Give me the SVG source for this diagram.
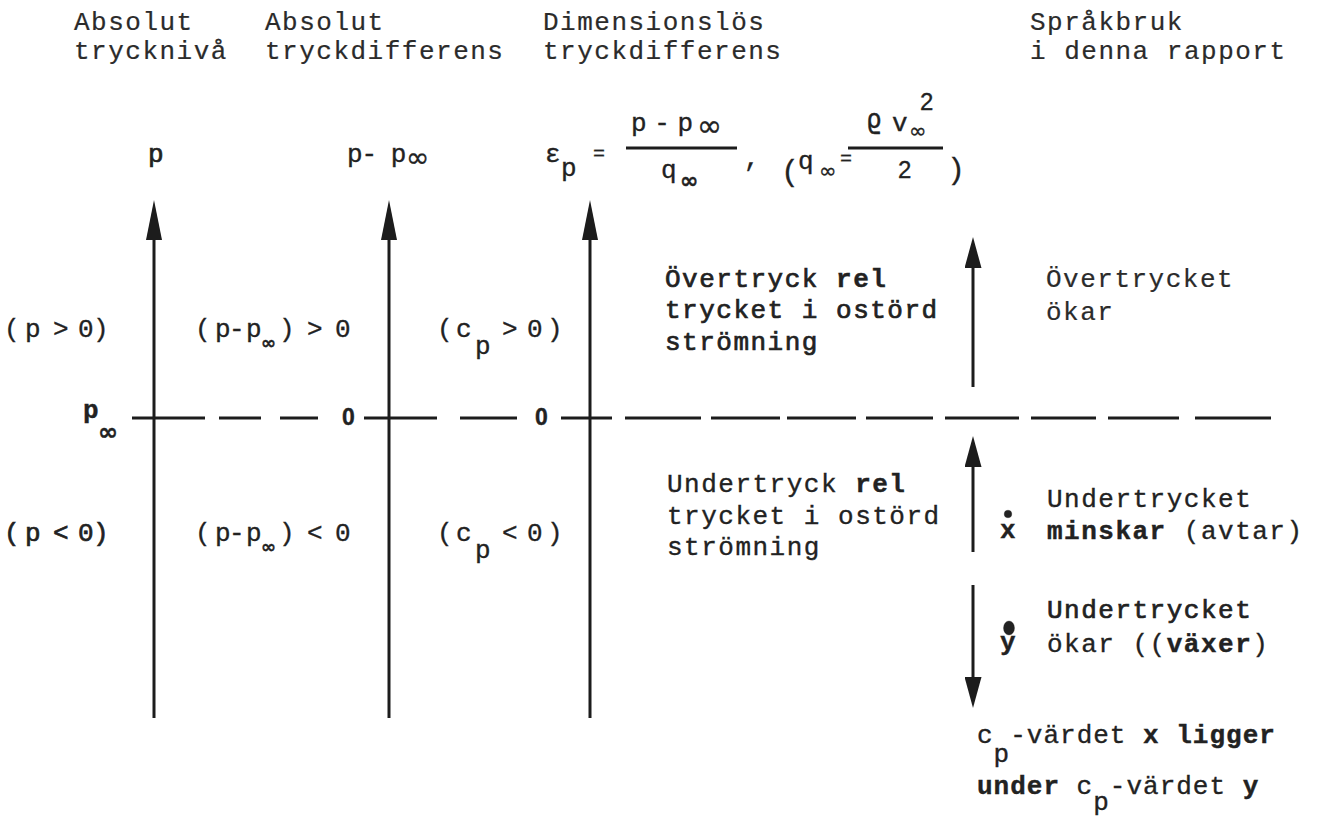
<svg xmlns="http://www.w3.org/2000/svg" width="1323" height="816" viewBox="0 0 1323 816">
<defs>
<style>
.tw{font-family:"Liberation Mono","DejaVu Sans Mono",monospace;font-size:26px;letter-spacing:1.5px;fill:#222;stroke:#222;stroke-width:0.35px;}
.hd{fill:#2b2b2b;stroke:#2b2b2b;stroke-width:0.2px;}
.ink{stroke-width:0.7px;}
.b{font-weight:bold;stroke-width:0.4px;}
.sy{font-family:"DejaVu Sans",sans-serif;letter-spacing:0;}
.sn{font-family:"Liberation Sans",Arial,sans-serif;font-size:24px;letter-spacing:0;}
.zb{font-family:"Liberation Sans",Arial,sans-serif;font-weight:bold;font-size:23px;letter-spacing:0;}
.ln{stroke:#1c1c1c;stroke-width:3;fill:none;}
.dash{stroke:#1c1c1c;stroke-width:3.2;fill:none;}
</style>
<marker id="ahL" viewBox="0 0 40 16" refX="0" refY="8" markerWidth="40" markerHeight="16" markerUnits="userSpaceOnUse" orient="auto"><path d="M0,0 L40,8 L0,16 Z" fill="#1c1c1c"/></marker>
<marker id="ahS" viewBox="0 0 31 17" refX="0" refY="8.5" markerWidth="31" markerHeight="17" markerUnits="userSpaceOnUse" orient="auto"><path d="M0,0 L31,8.5 L0,17 Z" fill="#1c1c1c"/></marker>
</defs>
<rect width="1323" height="816" fill="#ffffff"/>

<g id="connectors">
<line class="ln" x1="154" y1="718" x2="154" y2="240" marker-end="url(#ahL)"/>
<line class="ln" x1="389" y1="718" x2="389" y2="240" marker-end="url(#ahL)"/>
<line class="ln" x1="590" y1="718" x2="590" y2="240" marker-end="url(#ahL)"/>
<line class="ln" x1="973" y1="387" x2="973" y2="268" marker-end="url(#ahS)"/>
<line class="ln" x1="973" y1="552" x2="973" y2="467" marker-end="url(#ahS)"/>
<line class="ln" x1="973" y1="585" x2="973" y2="677" marker-end="url(#ahS)"/>
<path class="dash" d="M132,418H205M219,418H261M280,418H318M364,418H437M460,418H517M561,418H612M625,418H701M711,418H780M787,418H856M866,418H933M945,418H1019M1031,418H1096M1108,418H1179M1195,418H1271"/>
</g>

<g class="tw">
<g id="hdr-abs-niva" class="hd"><text x="74" y="30">Absolut</text><text x="74" y="59">trycknivå</text></g>
<g id="hdr-abs-diff" class="hd"><text x="265" y="30">Absolut</text><text x="265" y="59">tryckdifferens</text></g>
<g id="hdr-dim" class="hd"><text x="543" y="30">Dimensionslös</text><text x="543" y="59">tryckdifferens</text></g>
<g id="hdr-sprak" class="hd"><text x="1030" y="30">Språkbruk</text><text x="1030" y="59">i denna rapport</text></g>

<g id="lbl-p"><text class="ink" x="148" y="162">p</text></g>
<g id="lbl-pdiff"><text x="347" y="162" style="letter-spacing:-1px">p- p</text><text class="sy" x="406" y="167" font-size="28">∞</text></g>

<g id="formula">
<text x="545" y="162">ε</text>
<text x="561" y="176">p</text>
<text x="593" y="160" style="font-size:20px">=</text>
<text x="631" y="131" style="letter-spacing:-4px">p - p</text>
<text class="sy" x="697" y="136" font-size="30">∞</text>
<line class="ln" x1="626" y1="148" x2="737" y2="148"/>
<text x="661" y="178">q</text>
<text class="sy b" x="680" y="188" font-size="22">∞</text>
<text x="744" y="166">,</text>
<text x="781" y="181" style="font-size:30px">(</text>
<text x="798" y="169">q</text>
<text class="sy" x="819" y="178" font-size="21">∞</text>
<text x="840" y="165" style="font-size:20px">=</text>
<line class="ln" x1="848" y1="148" x2="943" y2="148"/>
<text x="866" y="128" style="font-family:'DejaVu Sans Mono',monospace">ϱ</text>
<text x="892" y="131">v</text>
<text class="sy" x="909" y="138" font-size="21">∞</text>
<text class="sn" x="920" y="110">2</text>
<text class="sn" x="898" y="178">2</text>
<text x="947" y="179" style="font-size:30px">)</text>
</g>

<g id="lbl-pinf"><text class="b" x="83" y="418">p</text><text class="sy b" x="98" y="440" font-size="24">∞</text></g>
<g id="zero-diff"><text class="zb" x="342" y="425">0</text></g>
<g id="zero-cp"><text class="zb" x="535" y="425">0</text></g>

<g id="pos-p"><text x="4 25 40 53 66 78 93" y="337">(p &gt; 0)</text></g>
<g id="pos-pdiff"><text y="337"><tspan x="195 215 229 246">(p-p</tspan><tspan class="sy b" font-size="18" x="261" dy="12">∞</tspan><tspan x="279 293 307 321 335" dy="-12">) &gt; 0</tspan></text></g>
<g id="pos-cp"><text y="337"><tspan x="437 456">(c</tspan><tspan x="475" dy="17">p</tspan><tspan x="489 502 516 527 547" dy="-17"> &gt; 0)</tspan></text></g>

<g id="neg-p"><text class="ink" x="4 25 40 53 66 78 93" y="541">(p &lt; 0)</text></g>
<g id="neg-pdiff"><text y="541"><tspan x="195 215 229 246">(p-p</tspan><tspan class="sy b" font-size="18" x="261" dy="12">∞</tspan><tspan x="279 293 307 321 335" dy="-12">) &lt; 0</tspan></text></g>
<g id="neg-cp"><text y="541"><tspan x="437 456">(c</tspan><tspan x="475" dy="17">p</tspan><tspan x="489 502 516 527 547" dy="-17"> &lt; 0)</tspan></text></g>

<g id="txt-over" class="ink">
<text x="665" y="287">Övertryck <tspan class="b">rel</tspan></text>
<text x="665" y="318">trycket i ostörd</text>
<text x="665" y="350">strömning</text>
</g>
<g id="txt-under">
<text x="667" y="492">Undertryck <tspan class="b">rel</tspan></text>
<text x="667" y="524">trycket i ostörd</text>
<text x="667" y="555">strömning</text>
</g>

<g id="lang-over" class="hd">
<text x="1046" y="287">Övertrycket</text>
<text x="1046" y="320">ökar</text>
</g>
<g id="lang-under-x">
<circle cx="1008" cy="514" r="3.8" fill="#222"/>
<text class="b" x="1000" y="538" style="letter-spacing:0">x</text>
<text x="1047" y="507">Undertrycket</text>
<text x="1047" y="539"><tspan class="b">minskar</tspan> (avtar)</text>
</g>
<g id="lang-under-y">
<ellipse cx="1009" cy="628" rx="5.5" ry="7" fill="#222"/>
<text class="b" x="1000" y="650" style="letter-spacing:0">y</text>
<text class="ink" x="1047" y="618">Undertrycket</text>
<text x="1047" y="652">ökar ((<tspan class="b">växer</tspan>)</text>
</g>
<g id="note" style="letter-spacing:1px">
<text x="977" y="743">c<tspan dy="19">p</tspan><tspan dy="-19">-värdet </tspan><tspan class="b">x ligger</tspan></text>
<text y="794"><tspan x="977" class="b">under</tspan> c<tspan dy="16">p</tspan><tspan dy="-16">-värdet </tspan><tspan class="b">y</tspan></text>
</g>
</g>
</svg>
